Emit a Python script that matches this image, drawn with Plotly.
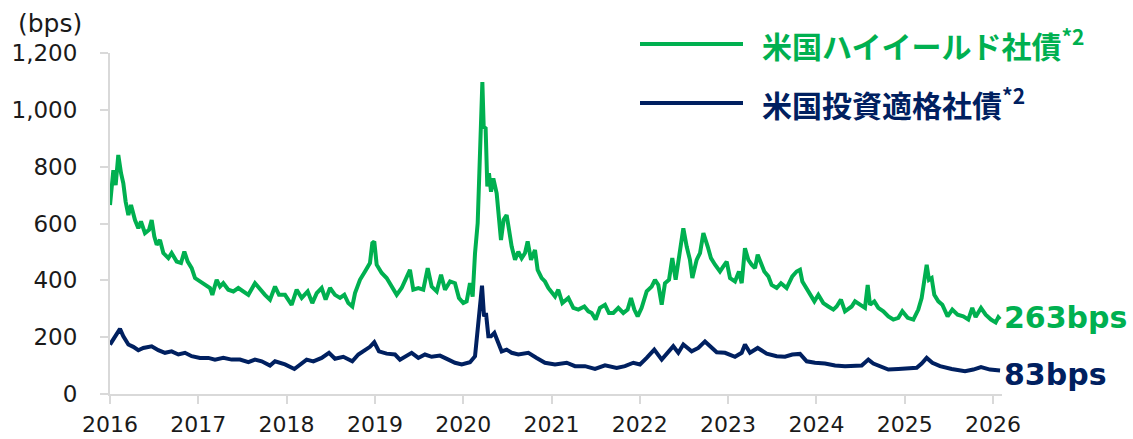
import plotly.graph_objects as go

# US high-yield corporate spreads (bps), x in decimal years
hy_x = [
    2016.000, 2016.038, 2016.064, 2016.094, 2016.125, 2016.151, 2016.177, 2016.208, 2016.238, 2016.283,
    2016.321, 2016.351, 2016.396, 2016.442, 2016.472, 2016.502, 2016.529, 2016.566, 2016.604, 2016.661,
    2016.698, 2016.755, 2016.804, 2016.842, 2016.880, 2016.925, 2016.963, 2017.019, 2017.076, 2017.133,
    2017.159, 2017.208, 2017.246, 2017.283, 2017.340, 2017.397, 2017.453, 2017.510, 2017.567, 2017.642,
    2017.699, 2017.755, 2017.812, 2017.869, 2017.914, 2017.982, 2018.057, 2018.114, 2018.171, 2018.239,
    2018.291, 2018.341, 2018.397, 2018.442, 2018.492, 2018.548, 2018.605, 2018.654, 2018.699, 2018.744,
    2018.775, 2018.831, 2018.888, 2018.944, 2018.971, 2018.993, 2019.020, 2019.077, 2019.133, 2019.190,
    2019.247, 2019.303, 2019.341, 2019.397, 2019.435, 2019.492, 2019.548, 2019.598, 2019.643, 2019.700,
    2019.749, 2019.794, 2019.851, 2019.907, 2019.952, 2020.001, 2020.039, 2020.077, 2020.107, 2020.134,
    2020.164, 2020.190, 2020.217, 2020.232, 2020.254, 2020.273, 2020.292, 2020.315, 2020.341, 2020.379,
    2020.405, 2020.428, 2020.458, 2020.492, 2020.519, 2020.549, 2020.587, 2020.624, 2020.662, 2020.700,
    2020.730, 2020.768, 2020.813, 2020.843, 2020.889, 2020.926, 2020.964, 2021.040, 2021.077, 2021.123,
    2021.191, 2021.247, 2021.304, 2021.372, 2021.417, 2021.455, 2021.500, 2021.549, 2021.606, 2021.651,
    2021.700, 2021.757, 2021.813, 2021.862, 2021.900, 2021.938, 2021.976, 2022.021, 2022.078, 2022.134,
    2022.172, 2022.210, 2022.248, 2022.285, 2022.331, 2022.368, 2022.406, 2022.455, 2022.493, 2022.531,
    2022.568, 2022.595, 2022.644, 2022.682, 2022.720, 2022.769, 2022.806, 2022.852, 2022.908, 2022.946,
    2022.984, 2023.022, 2023.078, 2023.123, 2023.154, 2023.191, 2023.229, 2023.267, 2023.305, 2023.335,
    2023.361, 2023.410, 2023.456, 2023.493, 2023.550, 2023.599, 2023.663, 2023.727, 2023.776, 2023.814,
    2023.841, 2023.890, 2023.939, 2023.977, 2024.022, 2024.078, 2024.135, 2024.192, 2024.229, 2024.278,
    2024.324, 2024.399, 2024.437, 2024.494, 2024.550, 2024.581, 2024.607, 2024.656, 2024.701, 2024.758,
    2024.815, 2024.871, 2024.928, 2024.973, 2025.034, 2025.098, 2025.154, 2025.192, 2025.230, 2025.249,
    2025.275, 2025.305, 2025.335, 2025.381, 2025.426, 2025.486, 2025.539, 2025.599, 2025.663, 2025.720,
    2025.765, 2025.803, 2025.864, 2025.917, 2025.977, 2026.030, 2026.060, 2026.080,
]
hy_val = [
    665, 788, 735, 841, 777, 741, 677, 630, 665, 612,
    583, 607, 566, 578, 612, 554, 525, 542, 496, 478,
    496, 466, 461, 501, 466, 443, 408, 396, 384, 373,
    349, 402, 378, 390, 367, 361, 373, 361, 349, 390,
    367, 349, 332, 378, 349, 349, 314, 367, 338, 361,
    320, 355, 373, 332, 373, 349, 338, 349, 320, 308,
    355, 402, 431, 461, 531, 537, 455, 426, 408, 378,
    349, 373, 396, 437, 367, 373, 367, 443, 378, 361,
    420, 367, 396, 390, 338, 320, 326, 390, 343, 496,
    601, 823, 1098, 940, 935, 730, 777, 712, 759, 706,
    624, 542, 613, 630, 578, 519, 472, 501, 478, 496,
    537, 472, 507, 437, 408, 396, 373, 343, 367, 320,
    338, 303, 297, 308, 291, 285, 262, 303, 314, 285,
    285, 303, 285, 297, 338, 297, 273, 303, 361, 378,
    402, 384, 314, 390, 402, 478, 402, 513, 583, 519,
    472, 408, 472, 496, 566, 519, 478, 455, 431, 449,
    466, 408, 396, 431, 390, 513, 472, 455, 443, 490,
    472, 431, 414, 384, 373, 390, 373, 414, 431, 437,
    396, 373, 349, 326, 349, 320, 308, 297, 308, 332,
    291, 308, 326, 314, 303, 384, 314, 326, 303, 291,
    273, 262, 268, 291, 268, 262, 297, 338, 414, 455,
    402, 408, 349, 326, 314, 273, 297, 279, 273, 262,
    303, 271, 303, 279, 262, 252, 270, 263,
]

# US investment-grade corporate spreads (bps)
ig_x = [
    2016.000, 2016.057, 2016.113, 2016.151, 2016.208, 2016.264, 2016.321, 2016.377, 2016.472, 2016.547,
    2016.623, 2016.698, 2016.774, 2016.849, 2016.925, 2017.019, 2017.114, 2017.189, 2017.283, 2017.378,
    2017.472, 2017.567, 2017.642, 2017.718, 2017.812, 2017.869, 2017.982, 2018.088, 2018.152, 2018.227,
    2018.303, 2018.397, 2018.480, 2018.548, 2018.642, 2018.744, 2018.812, 2018.888, 2018.944, 2018.993,
    2019.046, 2019.133, 2019.228, 2019.284, 2019.341, 2019.416, 2019.492, 2019.567, 2019.643, 2019.737,
    2019.832, 2019.907, 2019.983, 2020.077, 2020.134, 2020.171, 2020.213, 2020.236, 2020.258, 2020.285,
    2020.315, 2020.353, 2020.398, 2020.436, 2020.492, 2020.549, 2020.624, 2020.738, 2020.832, 2020.926,
    2021.040, 2021.172, 2021.266, 2021.379, 2021.493, 2021.606, 2021.738, 2021.832, 2021.927, 2022.002,
    2022.078, 2022.164, 2022.248, 2022.323, 2022.379, 2022.436, 2022.493, 2022.587, 2022.663, 2022.738,
    2022.795, 2022.871, 2022.965, 2023.078, 2023.154, 2023.191, 2023.248, 2023.335, 2023.437, 2023.550,
    2023.644, 2023.727, 2023.814, 2023.890, 2023.984, 2024.097, 2024.211, 2024.324, 2024.513, 2024.588,
    2024.645, 2024.720, 2024.815, 2024.928, 2025.041, 2025.136, 2025.192, 2025.249, 2025.313, 2025.400,
    2025.532, 2025.683, 2025.777, 2025.864, 2025.966, 2026.080,
]
ig_val = [
    174, 203, 229, 203, 174, 166, 154, 162, 168, 154,
    145, 150, 139, 145, 133, 127, 127, 121, 127, 121,
    121, 112, 121, 115, 100, 115, 104, 88, 104, 121,
    115, 127, 145, 124, 131, 115, 139, 156, 166, 182,
    150, 142, 139, 121, 133, 145, 127, 139, 131, 135,
    121, 110, 104, 112, 133, 238, 381, 273, 285, 203,
    203, 215, 174, 150, 156, 145, 139, 145, 127, 110,
    104, 110, 98, 98, 88, 101, 92, 98, 110, 104,
    127, 156, 121, 150, 168, 145, 174, 150, 162, 185,
    168, 147, 145, 131, 145, 174, 145, 162, 142, 133,
    131, 139, 141, 115, 110, 107, 100, 98, 100, 121,
    107, 98, 86, 88, 92, 92, 107, 127, 110, 98,
    88, 80, 86, 95, 86, 83,
]

years = list(range(2016, 2027))
y_ticks = [0, 200, 400, 600, 800, 1000, 1200]

series_names = ["米国ハイイールド社債", "米国投資適格社債"]
GREEN = "#00B050"
NAVY = "#002060"
AXIS = "#D9D9D9"
TEXT = "#1A1A1A"
LATIN = "DejaVu Sans"
CJK = "Noto Sans CJK JP"

W, H = 1133, 439
L, R, T, B = 110, 131, 53, 45
PW, PH = W - L - R, H - T - B


def px(x):
    return (x - L) / PW


def py(y):
    return (H - B - y) / PH


fig = go.Figure()
fig.add_trace(go.Scatter(x=hy_x, y=hy_val, mode="lines", name=series_names[0],
                         line=dict(color=GREEN, width=4), showlegend=False))
fig.add_trace(go.Scatter(x=ig_x, y=ig_val, mode="lines", name=series_names[1],
                         line=dict(color=NAVY, width=4), showlegend=False))

fig.update_layout(
    width=W, height=H,
    margin=dict(l=L, r=R, t=T, b=B),
    paper_bgcolor="white", plot_bgcolor="white",
    font=dict(family=LATIN, size=22, color=TEXT),
    xaxis=dict(
        range=[2016, 2016 + PW / 88.3],
        tickmode="array", tickvals=years, ticktext=[str(y) for y in years],
        showgrid=False, zeroline=False, automargin=False,
        showline=True, linecolor=AXIS, linewidth=2,
        ticks="outside", ticklen=8, tickwidth=2, tickcolor=AXIS,
        ticklabelstandoff=2,
        tickfont=dict(family=LATIN, size=22, color=TEXT),
    ),
    yaxis=dict(
        range=[0, 1200],
        tickmode="array", tickvals=y_ticks, tickformat=",d",
        showgrid=False, zeroline=False, automargin=False,
        showline=True, linecolor=AXIS, linewidth=2,
        ticks="outside", ticklen=8, tickwidth=2, tickcolor=AXIS,
        ticklabelstandoff=18,
        tickfont=dict(family=LATIN, size=23, color=TEXT),
    ),
)

# unit label
fig.add_annotation(xref="paper", yref="paper", x=px(16), y=py(23),
                   xanchor="left", yanchor="middle", showarrow=False,
                   text="(bps)", font=dict(family=LATIN, size=25, color=TEXT))

# legend keys
for name, color, ky in [(series_names[0], GREEN, 44), (series_names[1], NAVY, 103)]:
    fig.add_shape(type="line", xref="paper", yref="paper",
                  x0=px(640), x1=px(743), y0=py(ky), y1=py(ky),
                  line=dict(color=color, width=4))
    fig.add_annotation(xref="paper", yref="paper", x=px(760), y=py(ky),
                       xanchor="left", yanchor="middle", showarrow=False,
                       text=f"<b>{name}<sup>*2</sup></b>",
                       font=dict(family=CJK, size=30, color=color))

# latest values
for xs, vs, color, dy in [(hy_x, hy_val, GREEN, 2), (ig_x, ig_val, NAVY, -4)]:
    fig.add_annotation(x=xs[-1], y=vs[-1], xanchor="left", yanchor="middle",
                       xshift=2, yshift=dy, showarrow=False,
                       text=f"<b>{vs[-1]}bps</b>",
                       font=dict(family=LATIN, size=30, color=color))

fig.write_html("out.html")
